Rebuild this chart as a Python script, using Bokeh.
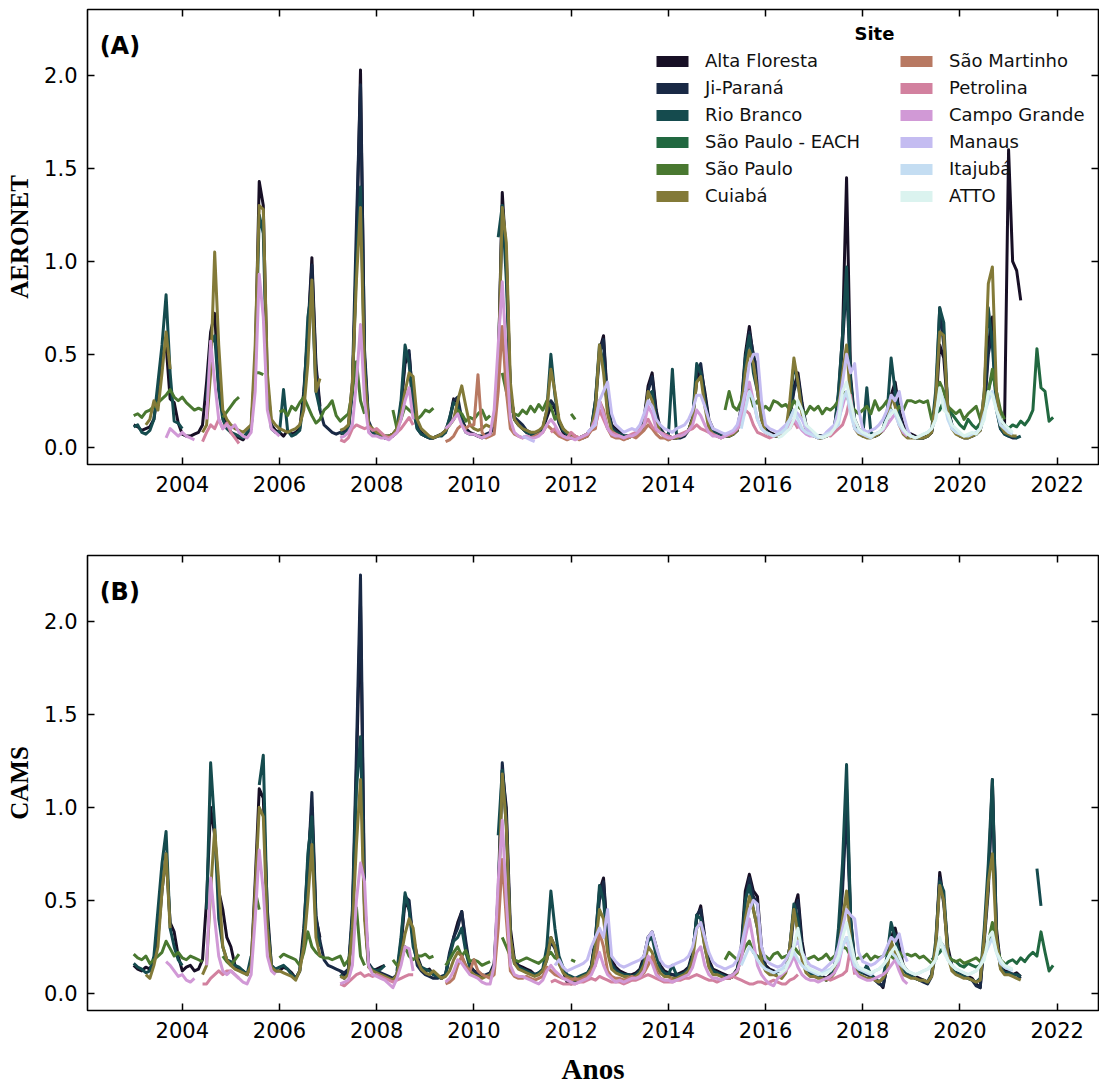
import numpy as np
from bokeh.plotting import figure
from bokeh.models import (Range1d, LinearAxis, FixedTicker, PrintfTickFormatter,
                          Legend, LegendItem, Label)
from bokeh.layouts import column
from bokeh.embed import file_html
from bokeh.resources import INLINE

N = None
SITES = ["Alta Floresta", "Ji-Paraná", "Rio Branco", "São Paulo - EACH", "São Paulo",
         "Cuiabá", "São Martinho", "Petrolina", "Campo Grande", "Manaus", "Itajubá", "ATTO"]
X_TICKS = [2004, 2006, 2008, 2010, 2012, 2014, 2016, 2018, 2020, 2022]
Y_TICKS = [0.0, 0.5, 1.0, 1.5, 2.0]
YEARS = list(range(2003, 2022))

# ---------------- AERONET (panel A): monthly values, Jan..Dec ----------------
AF_A = {
    2003: [.12, .11, .09, .10, .11, .15, .30, .48, .55, .26, .24, .13],
    2004: [.07, .06, .06, .07, .08, .12, .35, .62, .72, .32, .18, .12],
    2005: [.08, .06, .05, .04, .07, .10, .45, 1.43, 1.30, .35, .12, .09],
    2006: [.08, .06, .09, .07, .08, .10, .30, .62, 1.02, .45, .22, N],
    2007: [N, N, N, .07, .08, .10, .30, 1.05, 2.03, .48, .12, .08],
    2008: [.07, .06, .05, .05, .06, .08, .22, .45, .50, .25, .12, .08],
    2009: [.06, .05, .05, .06, .07, .09, .15, .26, .24, .15, .10, .08],
    2010: [.07, .06, .05, .06, .07, .12, .40, 1.37, 1.00, .30, .15, .12],
    2011: [.10, .08, .07, .07, .08, .10, .16, .22, .21, .13, .08, .05],
    2012: [.05, .05, .05, .06, .07, .10, .25, .52, .60, .24, .12, .10],
    2013: [.08, .06, .06, .06, .07, .09, .15, .33, .40, .20, .10, .07],
    2014: [.06, .05, .05, .06, .07, .09, .16, .35, .42, .30, .15, .10],
    2015: [.08, .07, .06, .06, .07, .09, .22, .50, .65, .48, .44, .20],
    2016: [.10, .08, .07, .06, .07, .09, .18, .32, .40, .24, .12, .08],
    2017: [.07, .06, .06, .06, .07, .10, .28, .60, 1.45, .38, .15, .10],
    2018: [.08, .07, .06, .06, .07, .10, .15, .28, .35, .20, .12, .08],
    2019: [.07, .06, .05, .05, .06, .08, .20, .55, .48, .20, .12, .08],
    2020: [.07, .06, .06, .07, .07, .10, .20, .55, .70, .25, .12, .12],
    2021: [1.60, 1.00, .95, .79],
}
JP_A = {
    2006: [N, N, N, N, N, N, .28, .60, .98, .42, .20, .12],
    2007: [.10, .08, .07, .08, .09, .11, .35, 1.20, 1.95, .52, .14, .09],
    2008: [.07, .06, .06, .06, .07, .09, .22, .48, .52, .22, .10, .07],
    2009: [.06, .05, .05, .06, .07, .08, .14, .25, .27, .15, .09, .07],
    2010: [.07, .06, .06, .07, .08, .13, .42, 1.30, 1.05, .28, .16, .14],
    2011: [.12, .09, .08, .07, .08, .10, .18, .25, .22, .14, .10, .07],
    2012: [.06, .05, .05, .05, .06, .10, .22, .50, .58, .22, .11, .09],
    2013: [.07, .06, .05, .06, .07, .08, .14, .30, .38, .18, .09, .07],
    2014: [.06, .05, .05, .05, .06, .09, .15, .40, .45, .28, .14, .09],
    2015: [.07, .06, .06, .06, .07, .09, .20, .45, .62, .50, .40, .18],
    2016: [.09, .07, .06, .06, .07, .09, .16, .30, .38, .22, .11, .08],
    2017: [.07, .06, .06, .06, .07, .09, .25, .55, .90, .35, .14, .09],
    2018: [.07, .06, .06, .06, .07, .09, .14, .26, .30, .18, .10, .07],
    2019: [.06, .05, .05, .05, .06, .08, .22, .75, .55, .22, .12, .08],
    2020: [.06, .05, .05, .06, .07, .09, .18, .50, .62, .22, .10, .07],
    2021: [.06, .05, .05],
}
RB_A = {
    2003: [.11, .12, .08, .07, .09, .15, .35, .55, .82, .40, .14, .13],
    2004: [.10, N, N, N, N, N, .25, .55, .60, .30, .15, .10],
    2005: [.08, .07, .06, .05, .08, .10, .40, 1.25, 1.15, .30, .10, .08],
    2006: [.08, .31, .09, .06, .07, .09, .25, .70, .85, .30, .20, N],
    2007: [N, N, N, .08, .07, .09, .30, 1.00, 1.40, .45, .12, .08],
    2008: [.07, .06, .05, .06, .07, .10, .25, .55, .45, .20, .10, .07],
    2009: [.06, .05, .05, .06, .06, .08, .16, .24, .22, .13, .08, .07],
    2010: [N, N, N, N, N, N, 1.13, 1.30, .90, .30, .15, .12],
    2011: [.10, .08, .07, .07, .08, .10, .20, .50, .28, .14, .09, .07],
    2012: [.06, .05, .05, .06, .07, .10, .25, .55, .45, .20, .10, .08],
    2013: [.07, .06, .06, .06, .07, .08, .12, .28, .30, .15, .09, .07],
    2014: [.06, .42, .07, .06, .07, .09, .15, .45, .40, .25, .12, .08],
    2015: [.07, .06, .06, .06, .07, .09, .20, .48, .60, .40, .30, .15],
    2016: [.09, .07, .06, .06, .07, .10, .20, .45, .35, .20, .10, .07],
    2017: [.06, .05, .05, .06, .07, .10, .30, .60, .97, .35, .12, .08],
    2018: [.06, .32, .08, .06, .07, .10, .18, .48, .30, .15, .09, .06],
    2019: [.06, .05, .05, .05, .06, .09, .30, .75, .67, .20, .12, .08],
    2020: [.07, .06, .06, .06, .07, .10, .30, .75, .55, .20, .10, .07],
    2021: [.06, .06, .05, .06],
}
SPE_A = {
    2019: [N, N, N, N, N, .15, .18, .20, .25, .22, .18, .15],
    2020: [.12, .10, .15, .12, .10, .13, .20, .30, .40, .30, .15, .12],
    2021: [.10, .12, .11, .14, .12, .15, .20, .53, .32, .30, .14, .16],
}
SP_A = {
    2003: [.17, .18, .16, .19, .20, .22, .24, .26, .28, .31, .27, .25],
    2004: [.27, .24, .22, .20, .21, .20, N, N, N, N, .16, .19],
    2005: [.22, .25, .27, N, N, N, .40, .40, .39],
    2006: [.19, .20, .17, .22, .20, .24, .27, .22, .17, .13, .15, .20],
    2007: [.22, .25, .17, .14, .16, .18, .30, .46, .25, .18],
    2008: [N, N, N, N, .20, .10, .15, .22, .20, .18, .15, .17],
    2009: [.20, .19, .21, N, N, .10, .12, .15, .20, .18, .14, .16],
    2010: [.15, .18, .20, .15, .17, N, N, .40, .30, .20, .18, .17],
    2011: [.20, .18, .22, .19, .23, .20, .25, .22, .15, .18],
    2012: [.18, .15],
    2015: [N, N, .20, .30, .22, .20, .25, .35, .30, .22, .25, .20],
    2016: [.22, .20, .25, .24, .22, .23, .20, .25, .22, .20, .18, .22],
    2017: [.20, .22, .18, .21, .20, .22, .25, .30, .28, .22, .20, .18],
    2018: [.20, .22, .18, .25, .20, .22, .25, .20, .18, .22, .20, .25],
    2019: [.25, .24, .25, .24, .25, .15, .18, .35, .30, .22, .20, .18],
    2020: [.20, .15, .18, .20, .22, .15, .25, .30, .42, .30, .20, .15],
}
CU_A = {
    2003: [N, N, N, .12, .15, .25, .20, .40, .62, .42],
    2004: [N, N, N, N, N, .08, .12, .40, 1.05, .55, .20, .15],
    2005: [.12, .10, .09, .08, .10, .12, .55, 1.30, 1.28, .40, .15, .12],
    2006: [.10, .09, .08, .09, .10, .12, .20, .45, .90, .30, .37],
    2007: [N, N, N, .09, .10, .12, .35, .90, 1.29, .40, .12, .10],
    2008: [.08, .07, .06, .06, .07, .10, .18, .30, .40, .38, .15, .10],
    2009: [.08, .06, .05, .06, .07, .09, .12, .15, .25, .33, .22, .12],
    2010: [.10, .09, .10, .12, .11, .12, .40, 1.29, 1.10, .35, .15, .12],
    2011: [.10, .09, .08, .08, .09, .11, .20, .42, .30, .15, .10, .08],
    2012: [.07, .06, .05, .06, .07, .10, .20, .55, .40, .18, .09, .07],
    2013: [.06, .05, .05, .06, .06, .08, .12, .30, .25, .14, .08, .06],
    2014: [.04, .05, .05, .06, .07, .09, .15, .35, .38, .22, .10, .07],
    2015: [.06, .05, .06, .06, .07, .09, .18, .40, .52, .45, .30, .15],
    2016: [.08, .07, .06, .06, .07, .09, .25, .48, .35, .18, .09, .07],
    2017: [.06, .05, .05, .06, .07, .09, .20, .40, .55, .25, .10, .07],
    2018: [.06, .05, .05, .06, .07, .09, .12, .28, .22, .12, .07, .05],
    2019: [.05, .05, .05, .05, .06, .08, .25, .62, .60, .20, .10, .07],
    2020: [.06, .05, .05, .06, .07, .09, .30, .88, .97, .30, .12, .08],
    2021: [.07, .06, .06],
}
SM_A = {
    2009: [N, N, N, N, N, .03, .04, .06, .10, .12, .10, .12],
    2010: [.12, .39, .08, .05, .06, .07, .30, .65, .30, .10, .07, .06],
    2011: [.05, .06, .05, .06, .07, .08, .12, .10, .08, .06, .05, .04],
    2012: [.05, .06, .04, .05, .06, .09, .10, .25, .20, .10, .06, .05],
    2013: [.05, .04, .05, .06, .05, .07, .09, .12, .10, .07, .05, .05],
    2014: [.04, .05],
}
PE_A = {
    2004: [N, N, N, N, N, .03, .08, .12, .10, .15, .10, .13],
    2005: [.08, .05, .02],
    2007: [N, N, N, .04, .03, .05, .10, .12, .11, .10, .11, .09],
    2008: [.10, .08, .06, .05, .06, .08, .10, .13, .16, .12],
    2011: [N, N, N, N, N, N, N, .08, .10, .07, .06, .05],
    2012: [.08, .06, .05, .06, .07, .10, .12, .20, .15, .10, .08, .07],
    2013: [.06, .05, .06, .07, .08, .10, .12, .15, .11, .09, .08, .07],
    2014: [.06, .05, .06, .07, .08, .09, .10, .12, .10, .09, .08, .07],
    2015: [.06, .05, .06, .07, .08, .10, .13, .20, .18, .12, .08, .07],
    2016: [.06, .05, .06, .07, .08, .09, .10, .14, .10],
    2017: [N, N, N, .07, .06, .08, .10, .12, .18, .28, .10],
}
CG_A = {
    2003: [N, N, N, N, N, N, N, N, .05, .10, .08, .06],
    2004: [.08, .06, .05, .04, N, N, .15, .57, .35, .15, .10, .12],
    2005: [.10, .12, .08, .06, .05, .08, .30, .93, .70, .20, .10, .08],
    2006: [.06],
    2007: [N, N, N, .05, .06, .08, .12, .35, .66, .25, .08, .06],
    2008: [.06, .05, .05, .04, .06, .08, .15, .25, .32, .15],
    2009: [N, N, N, N, N, .10, .12, .15, .18, .12, .08, .07],
    2010: [.07, .06, .05, .06, .07, .20, .55, .89, .50, .15, .08, .06],
    2011: [.05, .06, .05, .05, .06, .08, .12, .15, .12, .08, .06, .05],
    2012: [.05, .04, .05, .06, .07, .10, .15, .25, .18, .10, .07, .06],
    2013: [.06, .05, .06, .06, .07, .09, .12, .22, .18, .10, .08, .06],
    2014: [.05, .05, .06, .06, .07, .09, .12, .20, .17, .12, .08, .06],
    2015: [.06, .05, .06, .07, .08, .10, .15, .28, .35, .25, .15, .10],
    2016: [.08, .07, .06, .07, .08, .09, .12, .15, .12, .09, .07, .06],
    2017: [.06, .05, .06, .07, .08, .10, .15, .22, .30, .20, .10, .08],
    2018: [.07, .06, .06, .07, .08, .09, .12, .15, .18, .12, .08, .06],
}
MA_A = {
    2011: [.06, .05, .04, .03],
    2012: [N, N, N, N, .08, .10, .12, .25, .30, .35, .18, .12],
    2013: [.10, .08, .09, .10, .09, .12, .18, .25, .22, .15, .12, .10],
    2014: [.09, .08, .10, .11, .12, .15, .20, .28, .28, .22, .15, .10],
    2015: [.09, .08, .07, .08, .09, .12, .20, .30, .45, .50, .50, .25],
    2016: [.12, .10, .09, .08, .10, .12, .15, .20, .18, .15, .10, .08],
    2017: [.07, .06, .05, .08, .10, .12, .20, .35, .50, .40, .45, .20],
    2018: [.10, .08, .09, .10, .12, .15, .20, .28, .25, .30, .18, .10],
    2019: [.05],
}
IT_A = {
    2015: [N, N, N, N, N, N, .10, .20, .30, .25, .15, .10],
    2016: [.08, .07, .06, .07, .08, .10, .15, .20, .15, .10, .08, .07],
    2017: [.06, .05, .06, .07, .08, .10, .12, .25, .30, .18, .10, .08],
    2018: [.07, .06, .05, .07, .08, .10, .15, .20, .18, .12, .09, .07],
    2019: [.06, .05, .06, .07, .08, .10, .15, .30, .25, .15, .10, .08],
    2020: [.07, .06, .06, .07, .08, .10, .18, .25, .30, .20, .12, .10],
    2021: [.08, .07],
}
AT_A = {
    2016: [N, N, N, .05, .06, .08, .10, .15, .25, .20, .12, .10],
    2017: [.08, .06, .05, .06, .07, .10, .15, .30, .35, .25, .15, .10],
    2018: [.08, .07, .06, .07, .08, .10, .15, .18, .20, .15, .10, .07],
    2019: [.06, .05, .06, .07, .08, .10, .15, .32, .20, .18, .12, .10],
    2020: [.08, .06, .07, .08, .07, .10, .15, .30, .28, .20, .15, .12],
    2021: [.10, .08],
}

# ---------------- CAMS (panel B) ----------------
AF_B = {
    2003: [.15, .13, .12, .14, .13, .18, .30, .55, .75, .38, .33, .20],
    2004: [.12, .14, .15, .12, .13, .18, .50, 1.00, .85, .55, .45, .30],
    2005: [.25, .15, .13, .12, .10, .15, .60, 1.10, 1.05, .45, .15, .12],
    2006: [.12, .14, .13, .11, .08, .12, .35, .70, 1.00, .40, .30],
    2007: [N, N, N, .12, .10, .12, .40, 1.20, 2.10, .45, .15, .12],
    2008: [.13, .14, .15, N, N, .10, .25, .50, .45, .30, .20, .14],
    2009: [.12, .13, .10, .09, .08, .10, .20, .30, .38, .44, .25, .15],
    2010: [.12, .11, .10, .09, .10, .15, .50, 1.20, 1.00, .35, .18, .15],
    2011: [.14, .13, .12, .10, .11, .12, .20, .30, .25, .18, .12, .06],
    2012: [.05, .07, .08, .09, .10, .15, .30, .55, .62, .30, .18, .14],
    2013: [.12, .11, .10, .10, .11, .13, .20, .30, .33, .25, .15, .12],
    2014: [.11, .10, .10, .11, .12, .14, .22, .40, .47, .30, .18, .13],
    2015: [.12, .11, .10, .09, .10, .13, .25, .55, .64, .55, .52, .25],
    2016: [.15, .13, .12, .11, .10, .13, .25, .45, .53, .28, .15, .12],
    2017: [.11, .10, .09, .08, .10, .13, .30, .60, 1.10, .40, .18, .13],
    2018: [.12, .11, .10, .08, .06, .03, .15, .30, .35, .25, .15, .12],
    2019: [.10, .09, .08, .07, .06, .10, .25, .65, .50, .25, .15, .12],
    2020: [.11, .10, .09, .08, .05, .03, .30, .60, 1.15, .35, .15, .12],
    2021: [.12, .10, .11, .09],
}
JP_B = {
    2006: [N, N, N, N, N, N, .30, .65, 1.08, .42, .28, .18],
    2007: [.15, .14, .13, .12, .11, .13, .45, 1.30, 2.25, .50, .16, .13],
    2008: [.12, .11, .10, .09, .08, .10, .28, .52, .50, .28, .15, .12],
    2009: [.10, .09, .08, .08, .09, .10, .22, .30, .35, .44, .28, .14],
    2010: [.12, .10, .09, .10, .11, .16, .55, 1.24, .95, .30, .17, .14],
    2011: [.13, .12, .11, .10, .10, .12, .18, .28, .24, .16, .12, .08],
    2012: [.07, .06, .08, .09, .10, .14, .28, .50, .60, .28, .16, .13],
    2013: [.11, .10, .10, .09, .10, .12, .18, .30, .32, .22, .14, .11],
    2014: [.10, .10, .09, .10, .11, .13, .20, .42, .45, .28, .16, .12],
    2015: [.11, .10, .09, .08, .09, .12, .22, .50, .62, .52, .48, .22],
    2016: [.14, .12, .11, .10, .09, .12, .22, .42, .50, .25, .14, .11],
    2017: [.10, .09, .08, .07, .09, .12, .28, .55, 1.00, .38, .16, .12],
    2018: [.11, .10, .09, .07, .05, .04, .14, .28, .32, .22, .14, .11],
    2019: [.09, .08, .07, .06, .05, .09, .22, .62, .48, .22, .14, .11],
    2020: [.10, .09, .08, .07, .04, .03, .28, .55, 1.10, .32, .14, .11],
    2021: [.11, .10, .10, .08],
}
RB_B = {
    2003: [.16, .14, .13, .11, .12, .20, .45, .70, .87, .35, .25, .18],
    2004: [.15, N, N, N, N, N, .45, 1.24, .90, .40, .25, .18],
    2005: [.17, .15, .14, .12, .10, .20, N, 1.12, 1.28, .40, .15, .13],
    2006: [.14, .15, .13, .10, .08, .12, .30, .75, .95, .35, .25],
    2007: [N, N, N, .10, .08, .11, .40, 1.10, 1.38, .45, .15, .13],
    2008: [.12, .13, .15, N, N, .12, .30, .54, .45, .25, .18, .14],
    2009: [.13, .12, .10, .09, .08, .10, .20, .28, .30, .35, .22, .14],
    2010: [N, N, N, N, N, N, .85, 1.20, .90, .30, .16, .14],
    2011: [.13, .12, .11, .10, .11, .13, .25, .55, .35, .20, .14, .10],
    2012: [.09, .08, .09, .10, .11, .14, .28, .58, .50, .25, .15, .12],
    2013: [.11, .10, .10, .09, .10, .12, .17, .28, .30, .20, .13, .11],
    2014: [.10, .15, .10, .10, .11, .13, .20, .42, .40, .25, .15, .12],
    2015: [.11, .10, .09, .08, .09, .12, .22, .50, .58, .45, .35, .18],
    2016: [.13, .12, .11, .10, .09, .13, .25, .48, .40, .22, .13, .11],
    2017: [.10, .09, .08, .07, .09, .13, .35, .70, 1.23, .40, .16, .12],
    2018: [.11, .15, .10, .08, .06, .08, .20, .38, .30, .20, .13, .10],
    2019: [.09, .08, .07, .07, .06, .10, .28, .60, .55, .22, .14, .11],
    2020: [.10, .09, .08, .07, .06, .08, .35, .70, 1.15, .30, .14, .11],
    2021: [.11, .10, .10, .09, N, N, N, .67, .47],
}
SPE_B = {
    2019: [N, N, N, N, N, .18, .20, .22, .25, .20, .18, .17],
    2020: [.15, .14, .16, .15, .14, .15, .20, .28, .35, .25, .18, .15],
    2021: [.17, .18, .16, .19, .17, .20, .22, .20, .33, .22, .12, .15],
}
SP_B = {
    2003: [.21, .19, .18, .20, .16, .18, .20, .22, .28, .24, .20, .22],
    2004: [.19, .18, .20, .19, .18, .17, N, N, N, N, .20, .17],
    2005: [.15, .18, .21, N, N, N, .55, .45],
    2006: [.19, .21, .20, .19, .18, .15, .22, .33, .25, .22, .20, .19],
    2007: [.19, .18, .19, .20, .15, .18, .25, .46, .20, .15],
    2008: [N, N, N, N, .18, .15, .17, .25, .20, .18, .20, .20],
    2009: [.21, .19, .20, N, N, .15, .18, .22, .25, .20, .23, .17],
    2010: [.18, .17, .15, .16, .17, N, N, .30, .25, .20, .18, .17],
    2011: [.18, .19, .18, .17, .16, .18, .20, .22, .19, .18],
    2012: [.18, .17],
    2015: [N, N, .18, .22, .20, .18, .20, .25, .28, .22, .20, .18],
    2016: [.20, .18, .21, .22, .19, .20, .21, .25, .22, .20, .18, .19],
    2017: [.20, .18, .19, .21, .18, .20, .22, .25, .24, .20, .18, .19],
    2018: [.19, .21, .18, .20, .19, .20, .22, .20, .18, .22, .20, .21],
    2019: [.20, .21, .19, .20, .18, .16, .18, .28, .25, .20, .18, .17],
    2020: [.18, .16, .17, .18, .19, .17, .22, .28, .38, .25, .18, .16],
}
CU_B = {
    2003: [N, N, N, .10, .08, .15, .25, .55, .75, .35],
    2004: [N, N, N, N, N, .10, .15, .55, .88, .60, .25, .18],
    2005: [.15, .13, .12, .11, .10, .15, .55, 1.00, .95, .35, .14, .12],
    2006: [.12, .11, .10, .09, .07, .12, .25, .50, .80, .30, .20],
    2007: [N, N, N, .09, .08, .10, .35, .80, 1.15, .40, .14, .12],
    2008: [.11, .10, .09, .08, .07, .10, .20, .32, .40, .35, .18, .13],
    2009: [.11, .10, .12, .10, .08, .09, .12, .18, .22, .20, .15, .12],
    2010: [.10, .09, .08, .09, .10, .14, .45, 1.18, .90, .30, .16, .13],
    2011: [.12, .11, .10, .09, .10, .12, .18, .30, .25, .16, .11, .09],
    2012: [.08, .07, .08, .09, .10, .13, .25, .45, .40, .22, .13, .11],
    2013: [.10, .09, .09, .08, .09, .11, .15, .25, .22, .15, .11, .09],
    2014: [.09, .08, .08, .09, .10, .12, .18, .35, .38, .25, .14, .10],
    2015: [.10, .09, .08, .08, .09, .11, .20, .40, .52, .45, .35, .17],
    2016: [.12, .10, .10, .09, .08, .11, .25, .45, .32, .18, .11, .09],
    2017: [.09, .08, .08, .07, .08, .11, .22, .40, .55, .28, .13, .10],
    2018: [.09, .08, .08, .07, .06, .08, .12, .28, .22, .15, .10, .09],
    2019: [.08, .08, .07, .07, .06, .09, .25, .58, .50, .20, .12, .10],
    2020: [.09, .08, .08, .07, .06, .07, .30, .60, .75, .30, .13, .10],
    2021: [.10, .09, .08, .07],
}
SM_B = {
    2009: [N, N, N, N, N, .05, .06, .08, .15, .20, .14, .12],
    2010: [.18, .12, .10, .09, .08, .10, .35, .72, .40, .12, .09, .08],
    2011: [.08, .09, .08, .07, .08, .09, .14, .12, .10, .09, .08, .08],
    2012: [.07, .08, .07, .08, .09, .12, .15, .33, .25, .12, .09, .08],
    2013: [.08, .07, .08, .09, .08, .09, .11, .15, .20, .12, .08, .07],
    2014: [.07, .08],
}
PE_B = {
    2004: [N, N, N, N, N, .05, .05, .08, .10, .12, .10, .12],
    2005: [.12, .10, .08],
    2007: [N, N, N, .05, .04, .06, .08, .10, .11, .09, .10, .09],
    2008: [.10, .09, .08, .07, .06, .07, .08, .09, .10, .10],
    2011: [N, N, N, N, N, N, N, .06, .07, .06, .05, .05],
    2012: [.05, .05, .06, .06, .07, .08, .07, .09, .08, .07, .06, .06],
    2013: [.06, .05, .06, .07, .07, .08, .09, .10, .09, .08, .07, .06],
    2014: [.06, .06, .07, .07, .08, .08, .09, .10, .09, .08, .07, .07],
    2015: [.06, .07, .08, .08, .09, .08, .07, .06, .05, .05, .06, .06],
    2016: [.05, .06, .07, .06, .05, .05, .07, .08, .10],
    2017: [N, N, N, .08, .07, .08, .09, .10, .12, .25, .10],
}
CG_B = {
    2003: [N, N, N, N, N, N, N, N, .17, .15, .12, .09],
    2004: [.10, .07, .06, .08, N, N, .15, .62, .40, .20, .12, .10],
    2005: [.12, .10, .08, .06, .05, .10, .40, .77, .55, .20, .12, .10],
    2007: [N, N, N, .05, .06, .07, .15, .50, .70, .60, .15, .10],
    2008: [.09, .08, .07, .05, .03, .08, .15, .25, .24, .12],
    2009: [N, N, N, N, N, .06, .08, .12, .18, .16, .13, .10],
    2010: [.09, .08, .06, .05, .05, .15, .60, .93, .50, .15, .10, .09],
    2011: [.09, .08, .07, .06, .05, .07, .12, .15, .12, .10, .08, .07],
    2012: [.06, .05, .06, .07, .08, .10, .15, .22, .15, .10, .08, .06],
    2013: [.07, .06, .07, .08, .08, .09, .12, .20, .16, .10, .08, .07],
    2014: [.07, .06, .07, .08, .09, .10, .14, .22, .25, .15, .10, .08],
    2015: [.08, .07, .08, .09, .10, .12, .18, .30, .40, .28, .15, .10],
    2016: [.07, .05, .04, .08, .10, .12, .15, .20, .14, .10, .08, .07],
    2017: [.07, .06, .07, .08, .09, .11, .15, .25, .30, .20, .12, .09],
    2018: [.08, .07, .07, .08, .09, .10, .12, .15, .18, .12, .07, .05],
}
MA_B = {
    2011: [N, N, N, N, N, N, N, N, .15, .18, .14, .12],
    2012: [.13, .14, .15, .16, .18, .25, .30, .35, .30, .45, .20, .17],
    2013: [.15, .14, .15, .16, .17, .18, .20, .30, .33, .25, .18, .15],
    2014: [.14, .15, .16, .17, .18, .20, .25, .35, .38, .30, .22, .17],
    2015: [.15, .14, .13, .14, .15, .18, .25, .35, .45, .50, .48, .25],
    2016: [.18, .16, .15, .14, .15, .18, .22, .25, .28, .22, .18, .15],
    2017: [.14, .13, .12, .14, .16, .18, .25, .35, .45, .42, .40, .22],
    2018: [.17, .16, .15, .16, .18, .20, .25, .30, .28, .32, .22, .17],
}
IT_B = {
    2015: [N, N, N, N, N, N, .15, .20, .25, .22, .18, .15],
    2016: [.13, .12, .11, .12, .13, .15, .18, .22, .18, .15, .13, .12],
    2017: [.11, .10, .11, .12, .13, .15, .18, .25, .30, .22, .15, .13],
    2018: [.12, .11, .10, .12, .13, .15, .18, .22, .20, .16, .14, .12],
    2019: [.11, .10, .11, .12, .13, .15, .18, .28, .25, .18, .15, .13],
    2020: [.12, .11, .10, .11, .12, .15, .20, .25, .30, .22, .16, .14],
    2021: [.13, .12],
}
AT_B = {
    2016: [N, N, N, .10, .11, .13, .18, .25, .35, .22, .15, .13],
    2017: [.12, .11, .10, .11, .12, .15, .20, .30, .38, .28, .18, .14],
    2018: [.13, .12, .11, .12, .13, .15, .18, .22, .25, .20, .15, .12],
    2019: [.11, .10, .11, .12, .13, .15, .18, .30, .22, .18, .15, .13],
    2020: [.12, .11, .10, .11, .12, .15, .18, .30, .33, .22, .18, .15],
    2021: [.14, .13],
}

AERONET = [AF_A, JP_A, RB_A, SPE_A, SP_A, CU_A, SM_A, PE_A, CG_A, MA_A, IT_A, AT_A]
CAMS = [AF_B, JP_B, RB_B, SPE_B, SP_B, CU_B, SM_B, PE_B, CG_B, MA_B, IT_B, AT_B]


def cubehelix(n):
    cols = []
    for i in range(1, n + 1):
        x = i / (n + 1)
        phi = 2 * np.pi * (0.5 / 3 - 1.5 * x)
        a = x * (1 - x) / 2
        r = x + a * (-0.14861 * np.cos(phi) + 1.78277 * np.sin(phi))
        g = x + a * (-0.29227 * np.cos(phi) - 0.90649 * np.sin(phi))
        b = x + a * (1.97294 * np.cos(phi))
        rgb = [int(round(min(max(c, 0), 1) * 255)) for c in (r, g, b)]
        cols.append("#%02x%02x%02x" % tuple(rgb))
    return cols


COLORS = cubehelix(len(SITES))


def series(d):
    xs, ys = [], []
    for yr in YEARS:
        vals = d.get(yr, [])
        for m in range(12):
            v = vals[m] if m < len(vals) else None
            xs.append(yr + m / 12.0)
            ys.append(np.nan if v is None else v)
    return np.array(xs), np.array(ys, dtype=float)


TICK_FONT = "DejaVu Sans"


def make_panel(data, ylabel, tag, height, b_top, b_bottom, xlabel=None, legend=False):
    p = figure(width=1099, height=height, output_backend="svg", toolbar_location=None,
               x_range=Range1d(2002.05, 2022.85), y_range=Range1d(-0.093, 2.355),
               min_border_left=87, min_border_right=1, min_border_top=b_top,
               min_border_bottom=b_bottom)
    p.grid.visible = False
    p.outline_line_color = "black"
    p.outline_line_width = 1.6
    p.background_fill_color = "white"
    p.border_fill_color = "white"

    for i, d in enumerate(data):
        xs, ys = series(d)
        p.line(xs, ys, line_color=COLORS[i], line_width=3, line_join="round")

    top = LinearAxis()
    right = LinearAxis()
    p.add_layout(top, "above")
    p.add_layout(right, "right")
    for ax in p.xaxis:
        ax.ticker = FixedTicker(ticks=X_TICKS)
        ax.formatter = PrintfTickFormatter(format="%d")
    for ax in p.yaxis:
        ax.ticker = FixedTicker(ticks=Y_TICKS)
        ax.formatter = PrintfTickFormatter(format="%.1f")
    for ax in p.axis:
        ax.major_tick_in = 7
        ax.major_tick_out = 0
        ax.minor_tick_line_color = None
        ax.axis_line_color = None
        ax.major_tick_line_width = 1.5
        ax.major_tick_line_color = "black"
        ax.major_label_text_font = TICK_FONT
        ax.major_label_text_font_size = "21px"
        ax.major_label_text_color = "black"
    top.major_label_overrides = {t: "" for t in X_TICKS}
    right.major_label_overrides = {t: "" for t in Y_TICKS}
    for ax in (top, right):
        ax.major_label_standoff = 0
    p.below[0].major_label_standoff = 11
    p.left[0].major_label_standoff = 10

    p.yaxis[0].axis_label = ylabel
    p.left[0].axis_label_text_font = "Liberation Serif"
    p.left[0].axis_label_text_font_style = "bold"
    p.left[0].axis_label_text_font_size = "25px"
    p.left[0].axis_label_text_color = "black"
    p.left[0].axis_label_standoff = 8
    if xlabel:
        p.below[0].axis_label = xlabel
        p.below[0].axis_label_text_font = "Liberation Serif"
        p.below[0].axis_label_text_font_style = "bold"
        p.below[0].axis_label_text_font_size = "29px"
        p.below[0].axis_label_text_color = "black"
        p.below[0].axis_label_standoff = 12

    p.add_layout(Label(x=2002.30, y=2.16, text=tag, text_font=TICK_FONT,
                       text_font_style="bold", text_font_size="24px",
                       text_color="black", text_baseline="middle", text_align="left"))

    if legend:
        items1, items2 = [], []
        for i, name in enumerate(SITES):
            r = p.quad(left=[np.nan], right=[np.nan], top=[np.nan], bottom=[np.nan],
                       fill_color=COLORS[i], line_color=None)
            (items1 if i < 6 else items2).append(LegendItem(label=name, renderers=[r]))
        for items, xloc in ((items1, 565), (items2, 809)):
            leg = Legend(items=items, location=(xloc, 258), orientation="vertical",
                         glyph_width=40, glyph_height=14, label_standoff=13,
                         spacing=6, label_height=21, padding=0, margin=0,
                         border_line_color=None, background_fill_alpha=0,
                         label_text_font=TICK_FONT, label_text_font_size="18px",
                         label_text_color="#111111")
            p.add_layout(leg)
        p.add_layout(Label(x=2018.24, y=2.226, text="Site", text_font=TICK_FONT,
                           text_font_style="bold", text_font_size="18px",
                           text_color="black", text_align="center",
                           text_baseline="middle"))
    return p


pA = make_panel(AERONET, "AERONET", "(A)", 545, 9, 81, legend=True)
pB = make_panel(CAMS, "CAMS", "(B)", 543, 10, 78, xlabel="Anos")

layout = column(pA, pB, spacing=0)
open("out.html", "w").write(file_html(layout, INLINE))
